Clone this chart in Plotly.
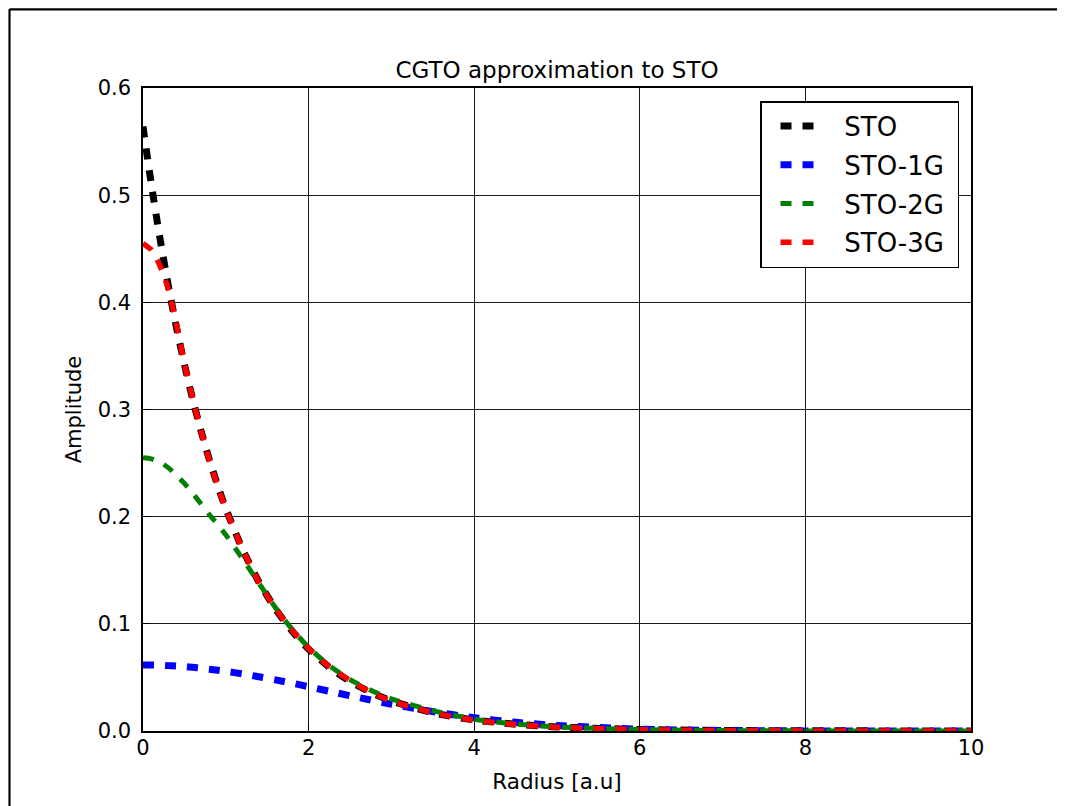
import plotly.graph_objects as go

# Radius grid [a.u] and amplitudes
radius = [0, 0.1, 0.2, 0.3, 0.4, 0.5, 0.6, 0.7, 0.8, 0.9, 1.0, 1.2, 1.4, 1.6, 1.8,
          2.0, 2.25, 2.5, 2.75, 3.0, 3.5, 4.0, 4.5, 5.0, 6, 7, 8, 9, 10]

sto = [0.564, 0.5105, 0.4619, 0.4180, 0.3782, 0.3422, 0.3096, 0.2802, 0.2535, 0.2294,
       0.2076, 0.1699, 0.1391, 0.1139, 0.0933, 0.0764, 0.0595, 0.0463, 0.0361, 0.0281,
       0.0170, 0.0103, 0.0063, 0.0038, 0.0014, 0.0005, 0.0002, 0.0001, 0.0]

sto_1g = [0.0616, 0.0615, 0.0614, 0.0610, 0.0606, 0.0601, 0.0594, 0.0586, 0.0577, 0.0567,
          0.0557, 0.0533, 0.0506, 0.0477, 0.0447, 0.0413, 0.0371, 0.0329, 0.0289, 0.0250,
          0.0181, 0.0124, 0.0081, 0.0051, 0.0017, 0.0005, 0.0001, 0.0, 0.0]

sto_2g = [0.255, 0.254, 0.251, 0.246, 0.239, 0.231, 0.222, 0.212, 0.202, 0.193,
          0.183, 0.161, 0.138, 0.115, 0.095, 0.078, 0.061, 0.048, 0.038, 0.030,
          0.019, 0.011, 0.0065, 0.0038, 0.0013, 0.0004, 0.0001, 0.0, 0.0]

sto_3g = [0.455, 0.449, 0.435, 0.414, 0.381, 0.343, 0.310, 0.280, 0.253, 0.229,
          0.207, 0.170, 0.139, 0.114, 0.094, 0.077, 0.060, 0.047, 0.036, 0.028,
          0.017, 0.010, 0.006, 0.0035, 0.0012, 0.0004, 0.0001, 0.0, 0.0]

series_names = ["STO", "STO-1G", "STO-2G", "STO-3G"]
series_values = [sto, sto_1g, sto_2g, sto_3g]
series_colors = ["#000000", "#0000ff", "#008000", "#ff0000"]
series_widths = [7, 7, 5, 5.5]

x_ticks = [0, 2, 4, 6, 8, 10]
y_ticks = [0.0, 0.1, 0.2, 0.3, 0.4, 0.5, 0.6]
y_tick_text = ["0.0", "0.1", "0.2", "0.3", "0.4", "0.5", "0.6"]

FONT = "DejaVu Sans"
LEAD = "&nbsp;" * 3
TRAIL = "&nbsp;"

fig = go.Figure()
for name, vals, col, w in zip(series_names, series_values, series_colors, series_widths):
    fig.add_trace(go.Scatter(
        x=radius, y=vals, mode="lines", name=LEAD + name + TRAIL, legendgroup=name,
        line=dict(color=col, width=w, dash="11px,11px", shape="spline", smoothing=0.6),
    ))

# The page body has an 8px offset; target plot area on screen: x 143..971, y 88..731
OFF = 8
W, H = 1065, 806
SX0, SX1, SY0, SY1 = 143, 971, 88, 731
L, T = SX0 - OFF, SY0 - OFF
R, B = W - (SX1 - OFF), H - (SY1 - OFF)
pw, ph = SX1 - SX0, SY1 - SY0

def px_x(p):  # screen px -> paper
    return (p - SX0) / pw

def px_y(p):
    return (SY1 - p) / ph

frame_top, frame_left = px_y(9.3), px_x(9.5)

fig.update_layout(
    width=W, height=H,
    margin=dict(l=L, r=R, t=T, b=B, autoexpand=False),
    paper_bgcolor="white", plot_bgcolor="white",
    font=dict(family=FONT, size=21, color="#000000"),
    title=dict(text="CGTO approximation to STO", x=0.5, xref="paper", xanchor="center",
               y=1.0, yref="paper", yanchor="bottom", pad=dict(b=10),
               font=dict(family=FONT, size=23, color="#000000")),
    showlegend=True,
    legend=dict(x=px_x(959), y=px_y(101), xanchor="right", yanchor="top",
                bgcolor="white", bordercolor="#000000", borderwidth=1.5,
                font=dict(family=FONT, size=26, color="#000000"),
                traceorder="grouped", tracegroupgap=2, itemwidth=34, indentation=14),
    shapes=[
        dict(type="line", xref="paper", yref="paper", x0=frame_left, x1=2.0,
             y0=frame_top, y1=frame_top, line=dict(color="#000000", width=2.2), layer="below"),
        dict(type="line", xref="paper", yref="paper", x0=frame_left, x1=frame_left,
             y0=frame_top, y1=-1.0, line=dict(color="#000000", width=2.2), layer="below"),
    ],
)

fig.update_xaxes(
    range=[0, 10], tickvals=x_ticks, ticktext=[str(v) for v in x_ticks],
    showgrid=True, gridcolor="#1a1a1a", gridwidth=1, zeroline=False,
    showline=True, linecolor="#000000", linewidth=1.5, mirror=True,
    ticks="inside", ticklen=7, tickcolor="#000000", ticklabelstandoff=-3,
    tickfont=dict(family=FONT, size=21, color="#000000"),
    title=dict(text="Radius [a.u]", standoff=15, font=dict(family=FONT, size=21.5, color="#000000")),
    automargin=False,
)
fig.update_yaxes(
    range=[0, 0.6], tickvals=y_ticks, ticktext=y_tick_text,
    showgrid=True, gridcolor="#1a1a1a", gridwidth=1, zeroline=False,
    showline=True, linecolor="#000000", linewidth=1.5, mirror=True,
    ticks="inside", ticklen=7, tickcolor="#000000", ticklabelstandoff=6,
    tickfont=dict(family=FONT, size=21, color="#000000"),
    title=dict(text="Amplitude", standoff=10, font=dict(family=FONT, size=21, color="#000000")),
    automargin=False,
)

fig.write_html("out.html")
